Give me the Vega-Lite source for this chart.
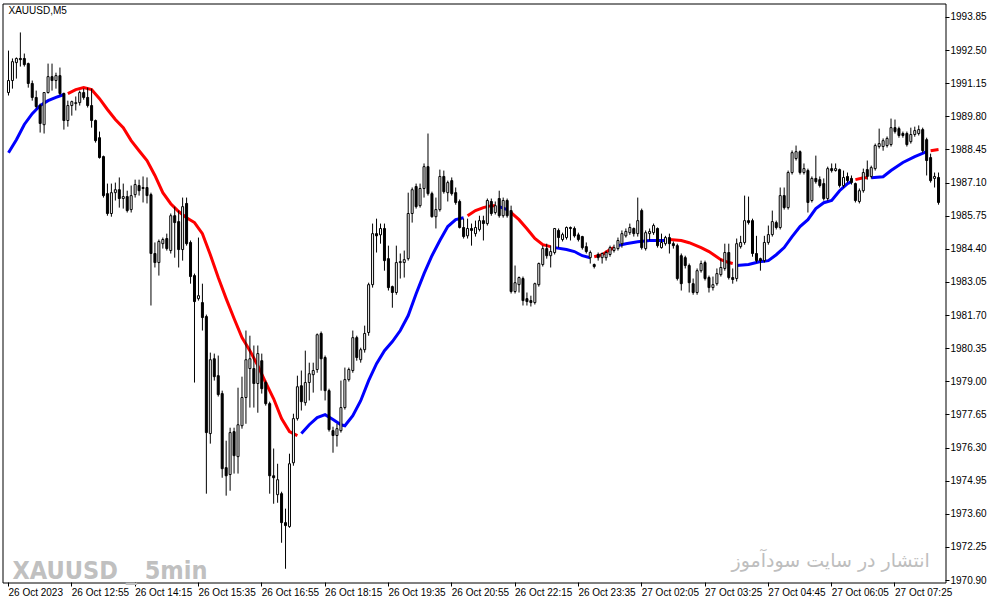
{
  "$schema": "https://vega.github.io/schema/vega-lite/v6.json",
  "width": 943,
  "height": 579,
  "autosize": {"type": "none"},
  "padding": {"left": 2.5, "top": 3.5, "right": 45.5, "bottom": 22.5},
  "background": "white",
  "config": {
    "view": {"stroke": "#000000", "strokeWidth": 1},
    "axis": {"labelFont": "Liberation Sans", "labelFontSize": 10, "labelColor": "#000000", "tickColor": "#000000", "domain": false, "grid": false, "title": null, "labelOverlap": false, "labelSeparation": 0, "labelFlush": false, "labelBound": false, "tickSize": 4, "labelPadding": 1, "translate": 0},
    "axisX": {"labelAlign": "left", "labelBaseline": "top"},
    "axisY": {"labelAlign": "left", "labelBaseline": "middle"}
  },
  "datasets": {
    "candles": [
      {"i":0,"o":1990.79,"h":1992.50,"l":1990.67,"c":1991.28},
      {"i":1,"o":1991.28,"h":1992.18,"l":1990.95,"c":1992.05},
      {"i":2,"o":1992.01,"h":1992.22,"l":1991.36,"c":1992.18},
      {"i":3,"o":1992.18,"h":1993.24,"l":1991.85,"c":1992.13},
      {"i":4,"o":1992.18,"h":1992.38,"l":1991.85,"c":1991.93},
      {"i":5,"o":1991.97,"h":1992.01,"l":1990.99,"c":1991.16},
      {"i":6,"o":1991.16,"h":1991.28,"l":1990.46,"c":1990.59},
      {"i":7,"o":1990.59,"h":1990.87,"l":1990.14,"c":1990.22},
      {"i":8,"o":1990.26,"h":1990.34,"l":1989.16,"c":1989.53},
      {"i":9,"o":1989.48,"h":1990.79,"l":1989.12,"c":1990.79},
      {"i":10,"o":1990.79,"h":1991.97,"l":1990.75,"c":1991.44},
      {"i":11,"o":1991.44,"h":1991.97,"l":1990.87,"c":1991.28},
      {"i":12,"o":1991.28,"h":1991.60,"l":1990.95,"c":1991.48},
      {"i":13,"o":1991.48,"h":1991.81,"l":1990.67,"c":1990.75},
      {"i":14,"o":1990.75,"h":1990.79,"l":1989.28,"c":1989.65},
      {"i":15,"o":1989.65,"h":1990.46,"l":1989.40,"c":1990.26},
      {"i":16,"o":1990.26,"h":1990.46,"l":1989.85,"c":1990.42},
      {"i":17,"o":1990.34,"h":1990.63,"l":1990.06,"c":1990.38},
      {"i":18,"o":1990.38,"h":1990.87,"l":1990.26,"c":1990.79},
      {"i":19,"o":1990.79,"h":1990.95,"l":1990.50,"c":1990.59},
      {"i":20,"o":1990.59,"h":1990.99,"l":1990.18,"c":1990.26},
      {"i":21,"o":1990.26,"h":1990.95,"l":1989.36,"c":1989.65},
      {"i":22,"o":1989.65,"h":1989.69,"l":1988.75,"c":1988.83},
      {"i":23,"o":1988.95,"h":1989.20,"l":1988.10,"c":1988.14},
      {"i":24,"o":1988.18,"h":1988.22,"l":1986.51,"c":1986.59},
      {"i":25,"o":1986.67,"h":1987.08,"l":1985.77,"c":1985.86},
      {"i":26,"o":1985.86,"h":1987.08,"l":1985.73,"c":1986.71},
      {"i":27,"o":1986.71,"h":1987.12,"l":1986.39,"c":1986.83},
      {"i":28,"o":1986.83,"h":1987.33,"l":1986.10,"c":1986.47},
      {"i":29,"o":1986.47,"h":1987.08,"l":1986.06,"c":1986.55},
      {"i":30,"o":1986.55,"h":1986.79,"l":1985.90,"c":1985.98},
      {"i":31,"o":1986.02,"h":1987.00,"l":1985.90,"c":1986.59},
      {"i":32,"o":1986.63,"h":1987.24,"l":1986.51,"c":1987.04},
      {"i":33,"o":1987.00,"h":1987.24,"l":1986.59,"c":1986.79},
      {"i":34,"o":1986.92,"h":1987.37,"l":1986.31,"c":1986.88},
      {"i":35,"o":1986.92,"h":1987.33,"l":1986.27,"c":1986.59},
      {"i":36,"o":1986.63,"h":1986.71,"l":1982.11,"c":1984.23},
      {"i":37,"o":1984.23,"h":1984.68,"l":1983.66,"c":1983.86},
      {"i":38,"o":1983.86,"h":1984.80,"l":1983.33,"c":1984.72},
      {"i":39,"o":1984.63,"h":1984.88,"l":1984.43,"c":1984.80},
      {"i":40,"o":1984.84,"h":1985.04,"l":1984.35,"c":1984.43},
      {"i":41,"o":1984.35,"h":1985.86,"l":1984.23,"c":1985.77},
      {"i":42,"o":1985.77,"h":1986.14,"l":1984.06,"c":1985.49},
      {"i":43,"o":1985.53,"h":1985.98,"l":1983.66,"c":1984.39},
      {"i":44,"o":1984.39,"h":1986.51,"l":1983.94,"c":1986.14},
      {"i":45,"o":1986.27,"h":1986.51,"l":1984.55,"c":1984.63},
      {"i":46,"o":1984.68,"h":1984.76,"l":1983.00,"c":1983.29},
      {"i":47,"o":1983.33,"h":1983.41,"l":1978.97,"c":1982.27},
      {"i":48,"o":1982.39,"h":1984.88,"l":1982.31,"c":1982.51},
      {"i":49,"o":1982.23,"h":1983.00,"l":1981.09,"c":1981.62},
      {"i":50,"o":1981.66,"h":1981.74,"l":1974.44,"c":1976.93},
      {"i":51,"o":1976.89,"h":1980.19,"l":1976.48,"c":1979.90},
      {"i":52,"o":1979.94,"h":1980.15,"l":1979.05,"c":1979.21},
      {"i":53,"o":1979.25,"h":1980.07,"l":1978.40,"c":1978.48},
      {"i":54,"o":1978.52,"h":1978.64,"l":1975.09,"c":1975.46},
      {"i":55,"o":1975.50,"h":1976.60,"l":1974.36,"c":1975.17},
      {"i":56,"o":1975.22,"h":1977.13,"l":1974.56,"c":1976.93},
      {"i":57,"o":1976.97,"h":1977.13,"l":1975.26,"c":1975.99},
      {"i":58,"o":1975.95,"h":1978.76,"l":1975.26,"c":1977.25},
      {"i":59,"o":1977.21,"h":1979.21,"l":1977.09,"c":1978.36},
      {"i":60,"o":1978.36,"h":1981.09,"l":1977.29,"c":1979.90},
      {"i":61,"o":1979.54,"h":1980.88,"l":1977.95,"c":1979.94},
      {"i":62,"o":1979.54,"h":1980.48,"l":1977.95,"c":1978.93},
      {"i":63,"o":1978.93,"h":1980.48,"l":1977.74,"c":1980.15},
      {"i":64,"o":1979.86,"h":1980.15,"l":1978.52,"c":1978.72},
      {"i":65,"o":1978.97,"h":1979.05,"l":1978.03,"c":1978.11},
      {"i":66,"o":1978.11,"h":1978.19,"l":1974.44,"c":1975.17},
      {"i":67,"o":1975.17,"h":1976.28,"l":1974.03,"c":1975.09},
      {"i":68,"o":1974.40,"h":1975.66,"l":1974.07,"c":1975.01},
      {"i":69,"o":1974.44,"h":1974.52,"l":1972.44,"c":1973.26},
      {"i":70,"o":1973.26,"h":1973.83,"l":1971.38,"c":1973.14},
      {"i":71,"o":1973.10,"h":1976.07,"l":1973.05,"c":1975.66},
      {"i":72,"o":1975.70,"h":1977.70,"l":1975.58,"c":1977.50},
      {"i":73,"o":1977.50,"h":1979.25,"l":1977.42,"c":1978.80},
      {"i":74,"o":1978.84,"h":1979.46,"l":1977.83,"c":1978.19},
      {"i":75,"o":1978.15,"h":1980.27,"l":1978.03,"c":1978.97},
      {"i":76,"o":1978.97,"h":1979.78,"l":1978.24,"c":1979.33},
      {"i":77,"o":1979.29,"h":1979.78,"l":1978.56,"c":1979.46},
      {"i":78,"o":1979.50,"h":1980.97,"l":1979.37,"c":1980.92},
      {"i":79,"o":1980.97,"h":1981.05,"l":1978.64,"c":1979.94},
      {"i":80,"o":1979.99,"h":1980.07,"l":1978.24,"c":1978.64},
      {"i":81,"o":1978.64,"h":1978.72,"l":1976.97,"c":1977.05},
      {"i":82,"o":1977.01,"h":1977.17,"l":1976.11,"c":1976.81},
      {"i":83,"o":1976.81,"h":1977.29,"l":1976.36,"c":1977.09},
      {"i":84,"o":1977.01,"h":1979.05,"l":1976.93,"c":1977.95},
      {"i":85,"o":1977.95,"h":1979.58,"l":1977.87,"c":1979.09},
      {"i":86,"o":1979.09,"h":1979.58,"l":1979.01,"c":1979.50},
      {"i":87,"o":1979.46,"h":1981.09,"l":1979.37,"c":1980.80},
      {"i":88,"o":1980.80,"h":1980.88,"l":1979.86,"c":1979.99},
      {"i":89,"o":1979.90,"h":1980.39,"l":1979.78,"c":1980.31},
      {"i":90,"o":1980.31,"h":1981.29,"l":1980.19,"c":1980.97},
      {"i":91,"o":1981.01,"h":1983.04,"l":1980.88,"c":1982.96},
      {"i":92,"o":1982.96,"h":1985.45,"l":1982.84,"c":1985.04},
      {"i":93,"o":1985.04,"h":1985.65,"l":1984.27,"c":1984.95},
      {"i":94,"o":1984.99,"h":1985.45,"l":1984.63,"c":1985.25},
      {"i":95,"o":1985.25,"h":1985.45,"l":1983.53,"c":1983.94},
      {"i":96,"o":1984.02,"h":1984.55,"l":1982.72,"c":1982.84},
      {"i":97,"o":1982.88,"h":1982.92,"l":1982.02,"c":1982.64},
      {"i":98,"o":1982.64,"h":1984.55,"l":1982.55,"c":1983.86},
      {"i":99,"o":1983.86,"h":1984.23,"l":1983.21,"c":1983.90},
      {"i":100,"o":1983.86,"h":1984.35,"l":1983.25,"c":1983.98},
      {"i":101,"o":1984.02,"h":1986.71,"l":1983.94,"c":1985.86},
      {"i":102,"o":1985.86,"h":1986.92,"l":1985.49,"c":1986.83},
      {"i":103,"o":1986.96,"h":1987.08,"l":1986.06,"c":1986.14},
      {"i":104,"o":1986.18,"h":1987.08,"l":1986.10,"c":1986.88},
      {"i":105,"o":1986.88,"h":1987.90,"l":1986.51,"c":1987.77},
      {"i":106,"o":1987.77,"h":1989.12,"l":1986.59,"c":1986.67},
      {"i":107,"o":1986.67,"h":1986.75,"l":1985.69,"c":1985.73},
      {"i":108,"o":1985.73,"h":1986.51,"l":1985.25,"c":1986.02},
      {"i":109,"o":1986.02,"h":1987.65,"l":1985.94,"c":1987.37},
      {"i":110,"o":1987.37,"h":1987.61,"l":1986.67,"c":1986.75},
      {"i":111,"o":1986.71,"h":1987.20,"l":1986.35,"c":1987.12},
      {"i":112,"o":1987.20,"h":1987.33,"l":1986.59,"c":1986.67},
      {"i":113,"o":1986.71,"h":1986.92,"l":1986.22,"c":1986.31},
      {"i":114,"o":1986.35,"h":1986.43,"l":1985.25,"c":1985.29},
      {"i":115,"o":1985.29,"h":1985.65,"l":1984.84,"c":1984.92},
      {"i":116,"o":1984.95,"h":1985.65,"l":1984.84,"c":1985.25},
      {"i":117,"o":1985.25,"h":1985.45,"l":1984.55,"c":1985.17},
      {"i":118,"o":1985.04,"h":1985.57,"l":1984.92,"c":1985.29},
      {"i":119,"o":1985.21,"h":1985.77,"l":1985.13,"c":1985.57},
      {"i":120,"o":1985.57,"h":1985.77,"l":1984.76,"c":1985.45},
      {"i":121,"o":1985.45,"h":1986.47,"l":1985.37,"c":1986.39},
      {"i":122,"o":1986.35,"h":1986.47,"l":1985.77,"c":1985.86},
      {"i":123,"o":1985.90,"h":1986.35,"l":1985.82,"c":1986.18},
      {"i":124,"o":1986.47,"h":1986.79,"l":1985.69,"c":1985.77},
      {"i":125,"o":1985.77,"h":1986.51,"l":1985.69,"c":1986.39},
      {"i":126,"o":1986.39,"h":1986.47,"l":1985.69,"c":1985.77},
      {"i":127,"o":1985.98,"h":1986.18,"l":1982.60,"c":1982.68},
      {"i":128,"o":1982.68,"h":1983.74,"l":1982.60,"c":1983.04},
      {"i":129,"o":1982.96,"h":1983.29,"l":1982.64,"c":1983.25},
      {"i":130,"o":1983.21,"h":1983.29,"l":1982.11,"c":1982.31},
      {"i":131,"o":1982.39,"h":1982.64,"l":1982.11,"c":1982.27},
      {"i":132,"o":1982.31,"h":1982.51,"l":1982.07,"c":1982.23},
      {"i":133,"o":1982.23,"h":1983.04,"l":1982.15,"c":1983.00},
      {"i":134,"o":1982.96,"h":1983.86,"l":1982.88,"c":1983.82},
      {"i":135,"o":1983.78,"h":1984.55,"l":1983.70,"c":1984.43},
      {"i":136,"o":1984.43,"h":1984.63,"l":1984.02,"c":1984.14},
      {"i":137,"o":1984.14,"h":1984.55,"l":1983.66,"c":1984.31},
      {"i":138,"o":1984.27,"h":1985.25,"l":1984.19,"c":1985.25},
      {"i":139,"o":1985.17,"h":1985.25,"l":1984.47,"c":1984.88},
      {"i":140,"o":1984.80,"h":1985.08,"l":1984.72,"c":1985.00},
      {"i":141,"o":1984.88,"h":1985.33,"l":1984.80,"c":1985.29},
      {"i":142,"o":1985.29,"h":1985.33,"l":1984.76,"c":1985.25},
      {"i":143,"o":1985.25,"h":1985.33,"l":1984.88,"c":1984.95},
      {"i":144,"o":1984.99,"h":1985.08,"l":1984.72,"c":1984.80},
      {"i":145,"o":1984.92,"h":1984.95,"l":1984.39,"c":1984.47},
      {"i":146,"o":1984.51,"h":1984.68,"l":1984.23,"c":1984.31},
      {"i":147,"o":1984.06,"h":1984.35,"l":1983.82,"c":1984.27},
      {"i":148,"o":1983.78,"h":1983.82,"l":1983.62,"c":1983.70},
      {"i":149,"o":1984.19,"h":1984.27,"l":1983.94,"c":1984.06},
      {"i":150,"o":1984.06,"h":1984.27,"l":1983.82,"c":1984.23},
      {"i":151,"o":1984.06,"h":1984.35,"l":1983.94,"c":1984.27},
      {"i":152,"o":1984.19,"h":1984.55,"l":1984.10,"c":1984.47},
      {"i":153,"o":1984.35,"h":1984.59,"l":1984.27,"c":1984.47},
      {"i":154,"o":1984.43,"h":1984.88,"l":1984.35,"c":1984.76},
      {"i":155,"o":1984.63,"h":1985.17,"l":1984.47,"c":1985.04},
      {"i":156,"o":1984.95,"h":1985.25,"l":1984.88,"c":1985.13},
      {"i":157,"o":1985.08,"h":1985.45,"l":1984.99,"c":1985.29},
      {"i":158,"o":1985.25,"h":1985.29,"l":1984.92,"c":1985.04},
      {"i":159,"o":1985.04,"h":1986.51,"l":1984.92,"c":1985.57},
      {"i":160,"o":1985.98,"h":1986.06,"l":1984.39,"c":1984.47},
      {"i":161,"o":1984.43,"h":1985.17,"l":1984.35,"c":1985.08},
      {"i":162,"o":1985.04,"h":1985.25,"l":1984.76,"c":1985.13},
      {"i":163,"o":1985.08,"h":1985.45,"l":1984.99,"c":1985.37},
      {"i":164,"o":1985.25,"h":1985.29,"l":1984.47,"c":1984.55},
      {"i":165,"o":1984.47,"h":1985.04,"l":1984.43,"c":1984.68},
      {"i":166,"o":1984.63,"h":1984.95,"l":1984.55,"c":1984.88},
      {"i":167,"o":1984.88,"h":1985.04,"l":1984.23,"c":1984.63},
      {"i":168,"o":1984.63,"h":1984.72,"l":1984.43,"c":1984.55},
      {"i":169,"o":1984.55,"h":1984.63,"l":1983.13,"c":1983.21},
      {"i":170,"o":1984.14,"h":1984.23,"l":1982.72,"c":1983.00},
      {"i":171,"o":1984.06,"h":1984.14,"l":1983.62,"c":1983.74},
      {"i":172,"o":1983.74,"h":1983.82,"l":1982.64,"c":1983.04},
      {"i":173,"o":1983.00,"h":1983.21,"l":1982.55,"c":1982.64},
      {"i":174,"o":1982.64,"h":1983.62,"l":1982.55,"c":1983.53},
      {"i":175,"o":1983.53,"h":1983.94,"l":1983.45,"c":1983.82},
      {"i":176,"o":1983.86,"h":1983.94,"l":1983.13,"c":1983.21},
      {"i":177,"o":1983.25,"h":1983.33,"l":1982.64,"c":1982.84},
      {"i":178,"o":1982.84,"h":1983.29,"l":1982.72,"c":1982.96},
      {"i":179,"o":1983.00,"h":1983.62,"l":1982.92,"c":1983.41},
      {"i":180,"o":1983.37,"h":1984.02,"l":1983.29,"c":1983.66},
      {"i":181,"o":1983.62,"h":1984.63,"l":1983.53,"c":1984.27},
      {"i":182,"o":1984.27,"h":1984.63,"l":1983.17,"c":1983.25},
      {"i":183,"o":1983.25,"h":1983.62,"l":1983.00,"c":1983.17},
      {"i":184,"o":1983.21,"h":1984.84,"l":1983.09,"c":1984.63},
      {"i":185,"o":1984.51,"h":1984.95,"l":1984.43,"c":1984.68},
      {"i":186,"o":1984.68,"h":1986.59,"l":1984.59,"c":1985.57},
      {"i":187,"o":1985.57,"h":1986.55,"l":1985.41,"c":1985.49},
      {"i":188,"o":1985.57,"h":1985.65,"l":1984.10,"c":1984.23},
      {"i":189,"o":1984.23,"h":1984.95,"l":1983.86,"c":1983.94},
      {"i":190,"o":1984.02,"h":1984.06,"l":1983.53,"c":1983.94},
      {"i":191,"o":1983.94,"h":1984.95,"l":1983.86,"c":1984.68},
      {"i":192,"o":1984.68,"h":1985.37,"l":1984.59,"c":1985.00},
      {"i":193,"o":1985.00,"h":1985.98,"l":1984.92,"c":1985.53},
      {"i":194,"o":1985.49,"h":1985.57,"l":1985.21,"c":1985.29},
      {"i":195,"o":1985.29,"h":1986.92,"l":1985.21,"c":1986.59},
      {"i":196,"o":1986.59,"h":1986.92,"l":1986.02,"c":1986.10},
      {"i":197,"o":1986.10,"h":1987.61,"l":1986.02,"c":1987.53},
      {"i":198,"o":1987.53,"h":1988.43,"l":1987.45,"c":1988.34},
      {"i":199,"o":1988.10,"h":1988.63,"l":1988.02,"c":1988.38},
      {"i":200,"o":1988.38,"h":1988.43,"l":1987.45,"c":1987.53},
      {"i":201,"o":1987.53,"h":1987.90,"l":1987.45,"c":1987.69},
      {"i":202,"o":1987.61,"h":1987.69,"l":1985.90,"c":1986.31},
      {"i":203,"o":1986.39,"h":1987.37,"l":1986.31,"c":1987.29},
      {"i":204,"o":1987.29,"h":1988.22,"l":1987.08,"c":1987.16},
      {"i":205,"o":1987.24,"h":1987.37,"l":1986.92,"c":1987.00},
      {"i":206,"o":1987.08,"h":1987.29,"l":1986.39,"c":1986.47},
      {"i":207,"o":1986.47,"h":1987.77,"l":1986.39,"c":1987.69},
      {"i":208,"o":1987.69,"h":1987.90,"l":1987.53,"c":1987.61},
      {"i":209,"o":1987.61,"h":1987.90,"l":1987.57,"c":1987.69},
      {"i":210,"o":1987.65,"h":1987.69,"l":1986.92,"c":1987.00},
      {"i":211,"o":1987.00,"h":1987.61,"l":1986.92,"c":1987.33},
      {"i":212,"o":1987.37,"h":1987.53,"l":1987.12,"c":1987.20},
      {"i":213,"o":1987.29,"h":1987.41,"l":1987.04,"c":1987.12},
      {"i":214,"o":1987.08,"h":1987.12,"l":1986.31,"c":1986.39},
      {"i":215,"o":1986.35,"h":1986.88,"l":1986.27,"c":1986.79},
      {"i":216,"o":1986.79,"h":1987.69,"l":1986.71,"c":1987.53},
      {"i":217,"o":1987.65,"h":1988.02,"l":1987.24,"c":1987.37},
      {"i":218,"o":1987.37,"h":1987.81,"l":1987.29,"c":1987.73},
      {"i":219,"o":1987.69,"h":1988.71,"l":1987.61,"c":1988.63},
      {"i":220,"o":1988.59,"h":1989.32,"l":1988.51,"c":1988.71},
      {"i":221,"o":1988.59,"h":1988.92,"l":1988.42,"c":1988.83},
      {"i":222,"o":1988.63,"h":1989.00,"l":1988.55,"c":1988.92},
      {"i":223,"o":1988.67,"h":1989.73,"l":1988.59,"c":1989.36},
      {"i":224,"o":1989.36,"h":1989.69,"l":1989.12,"c":1989.20},
      {"i":225,"o":1989.32,"h":1989.40,"l":1988.95,"c":1989.04},
      {"i":226,"o":1989.12,"h":1989.20,"l":1988.95,"c":1989.04},
      {"i":227,"o":1989.12,"h":1989.20,"l":1988.59,"c":1988.67},
      {"i":228,"o":1988.79,"h":1989.36,"l":1988.71,"c":1989.08},
      {"i":229,"o":1989.08,"h":1989.40,"l":1988.99,"c":1989.24},
      {"i":230,"o":1989.12,"h":1989.45,"l":1989.04,"c":1989.28},
      {"i":231,"o":1989.28,"h":1989.36,"l":1988.34,"c":1988.42},
      {"i":232,"o":1988.87,"h":1988.95,"l":1987.41,"c":1988.02},
      {"i":233,"o":1988.14,"h":1988.30,"l":1987.12,"c":1987.20},
      {"i":234,"o":1987.29,"h":1987.53,"l":1986.92,"c":1987.37},
      {"i":235,"o":1987.33,"h":1987.53,"l":1986.22,"c":1986.31}
    ],
    "ma": [
      {"i":0,"ma":1988.34,"seg":1,"col":"blue"},
      {"i":2,"ma":1988.87,"seg":1,"col":"blue"},
      {"i":4,"ma":1989.49,"seg":1,"col":"blue"},
      {"i":6,"ma":1989.93,"seg":1,"col":"blue"},
      {"i":8,"ma":1990.26,"seg":1,"col":"blue"},
      {"i":10,"ma":1990.46,"seg":1,"col":"blue"},
      {"i":12,"ma":1990.59,"seg":1,"col":"blue"},
      {"i":14,"ma":1990.71,"seg":1,"col":"blue"},
      {"i":15,"ma":1990.75,"seg":2,"col":"red"},
      {"i":17,"ma":1990.91,"seg":2,"col":"red"},
      {"i":19,"ma":1990.99,"seg":2,"col":"red"},
      {"i":21,"ma":1990.91,"seg":2,"col":"red"},
      {"i":23,"ma":1990.54,"seg":2,"col":"red"},
      {"i":25,"ma":1990.10,"seg":2,"col":"red"},
      {"i":27,"ma":1989.69,"seg":2,"col":"red"},
      {"i":29,"ma":1989.36,"seg":2,"col":"red"},
      {"i":31,"ma":1988.83,"seg":2,"col":"red"},
      {"i":33,"ma":1988.42,"seg":2,"col":"red"},
      {"i":35,"ma":1988.02,"seg":2,"col":"red"},
      {"i":37,"ma":1987.41,"seg":2,"col":"red"},
      {"i":39,"ma":1986.71,"seg":2,"col":"red"},
      {"i":41,"ma":1986.26,"seg":2,"col":"red"},
      {"i":43,"ma":1985.94,"seg":2,"col":"red"},
      {"i":45,"ma":1985.69,"seg":2,"col":"red"},
      {"i":47,"ma":1985.49,"seg":2,"col":"red"},
      {"i":49,"ma":1985.04,"seg":2,"col":"red"},
      {"i":51,"ma":1984.18,"seg":2,"col":"red"},
      {"i":53,"ma":1983.25,"seg":2,"col":"red"},
      {"i":55,"ma":1982.39,"seg":2,"col":"red"},
      {"i":57,"ma":1981.58,"seg":2,"col":"red"},
      {"i":59,"ma":1980.80,"seg":2,"col":"red"},
      {"i":61,"ma":1980.27,"seg":2,"col":"red"},
      {"i":63,"ma":1979.66,"seg":2,"col":"red"},
      {"i":65,"ma":1978.97,"seg":2,"col":"red"},
      {"i":67,"ma":1978.31,"seg":2,"col":"red"},
      {"i":69,"ma":1977.50,"seg":2,"col":"red"},
      {"i":71,"ma":1976.97,"seg":2,"col":"red"},
      {"i":73,"ma":1976.81,"seg":2,"col":"red"},
      {"i":74,"ma":1976.89,"seg":3,"col":"blue"},
      {"i":76,"ma":1977.25,"seg":3,"col":"blue"},
      {"i":78,"ma":1977.54,"seg":3,"col":"blue"},
      {"i":80,"ma":1977.66,"seg":3,"col":"blue"},
      {"i":82,"ma":1977.46,"seg":3,"col":"blue"},
      {"i":84,"ma":1977.25,"seg":3,"col":"blue"},
      {"i":85,"ma":1977.21,"seg":3,"col":"blue"},
      {"i":87,"ma":1977.62,"seg":3,"col":"blue"},
      {"i":89,"ma":1978.23,"seg":3,"col":"blue"},
      {"i":91,"ma":1979.05,"seg":3,"col":"blue"},
      {"i":93,"ma":1979.74,"seg":3,"col":"blue"},
      {"i":95,"ma":1980.27,"seg":3,"col":"blue"},
      {"i":97,"ma":1980.64,"seg":3,"col":"blue"},
      {"i":99,"ma":1981.09,"seg":3,"col":"blue"},
      {"i":101,"ma":1981.70,"seg":3,"col":"blue"},
      {"i":103,"ma":1982.59,"seg":3,"col":"blue"},
      {"i":105,"ma":1983.41,"seg":3,"col":"blue"},
      {"i":107,"ma":1984.14,"seg":3,"col":"blue"},
      {"i":109,"ma":1984.76,"seg":3,"col":"blue"},
      {"i":111,"ma":1985.33,"seg":3,"col":"blue"},
      {"i":113,"ma":1985.61,"seg":3,"col":"blue"},
      {"i":115,"ma":1985.69,"seg":3,"col":"blue"},
      {"i":116,"ma":1985.77,"seg":4,"col":"red"},
      {"i":118,"ma":1985.98,"seg":4,"col":"red"},
      {"i":120,"ma":1986.10,"seg":4,"col":"red"},
      {"i":122,"ma":1986.18,"seg":4,"col":"red"},
      {"i":123,"ma":1986.18,"seg":4,"col":"red"},
      {"i":124,"ma":1986.14,"seg":5,"col":"blue"},
      {"i":126,"ma":1986.02,"seg":5,"col":"blue"},
      {"i":127,"ma":1985.90,"seg":6,"col":"red"},
      {"i":129,"ma":1985.61,"seg":6,"col":"red"},
      {"i":131,"ma":1985.24,"seg":6,"col":"red"},
      {"i":133,"ma":1984.84,"seg":6,"col":"red"},
      {"i":135,"ma":1984.59,"seg":6,"col":"red"},
      {"i":137,"ma":1984.51,"seg":6,"col":"red"},
      {"i":138,"ma":1984.47,"seg":7,"col":"blue"},
      {"i":141,"ma":1984.39,"seg":7,"col":"blue"},
      {"i":143,"ma":1984.31,"seg":7,"col":"blue"},
      {"i":145,"ma":1984.14,"seg":7,"col":"blue"},
      {"i":147,"ma":1984.06,"seg":7,"col":"blue"},
      {"i":148,"ma":1984.10,"seg":8,"col":"red"},
      {"i":150,"ma":1984.18,"seg":8,"col":"red"},
      {"i":152,"ma":1984.39,"seg":8,"col":"red"},
      {"i":153,"ma":1984.47,"seg":8,"col":"red"},
      {"i":154,"ma":1984.55,"seg":9,"col":"blue"},
      {"i":156,"ma":1984.63,"seg":9,"col":"blue"},
      {"i":159,"ma":1984.71,"seg":9,"col":"blue"},
      {"i":162,"ma":1984.76,"seg":9,"col":"blue"},
      {"i":166,"ma":1984.76,"seg":9,"col":"blue"},
      {"i":167,"ma":1984.80,"seg":10,"col":"red"},
      {"i":170,"ma":1984.76,"seg":10,"col":"red"},
      {"i":172,"ma":1984.67,"seg":10,"col":"red"},
      {"i":175,"ma":1984.47,"seg":10,"col":"red"},
      {"i":177,"ma":1984.31,"seg":10,"col":"red"},
      {"i":180,"ma":1983.98,"seg":10,"col":"red"},
      {"i":182,"ma":1983.86,"seg":10,"col":"red"},
      {"i":183,"ma":1983.82,"seg":10,"col":"red"},
      {"i":184,"ma":1983.74,"seg":11,"col":"blue"},
      {"i":187,"ma":1983.78,"seg":11,"col":"blue"},
      {"i":190,"ma":1983.90,"seg":11,"col":"blue"},
      {"i":192,"ma":1983.94,"seg":11,"col":"blue"},
      {"i":194,"ma":1984.18,"seg":11,"col":"blue"},
      {"i":196,"ma":1984.47,"seg":11,"col":"blue"},
      {"i":198,"ma":1984.92,"seg":11,"col":"blue"},
      {"i":200,"ma":1985.33,"seg":11,"col":"blue"},
      {"i":202,"ma":1985.61,"seg":11,"col":"blue"},
      {"i":204,"ma":1986.06,"seg":11,"col":"blue"},
      {"i":206,"ma":1986.30,"seg":11,"col":"blue"},
      {"i":208,"ma":1986.39,"seg":11,"col":"blue"},
      {"i":210,"ma":1986.79,"seg":11,"col":"blue"},
      {"i":212,"ma":1987.08,"seg":11,"col":"blue"},
      {"i":213,"ma":1987.16,"seg":11,"col":"blue"},
      {"i":214,"ma":1987.24,"seg":12,"col":"red"},
      {"i":216,"ma":1987.32,"seg":12,"col":"red"},
      {"i":217,"ma":1987.32,"seg":12,"col":"red"},
      {"i":218,"ma":1987.32,"seg":13,"col":"blue"},
      {"i":221,"ma":1987.36,"seg":13,"col":"blue"},
      {"i":223,"ma":1987.61,"seg":13,"col":"blue"},
      {"i":226,"ma":1987.94,"seg":13,"col":"blue"},
      {"i":229,"ma":1988.18,"seg":13,"col":"blue"},
      {"i":232,"ma":1988.38,"seg":13,"col":"blue"},
      {"i":233,"ma":1988.42,"seg":14,"col":"red"},
      {"i":235,"ma":1988.47,"seg":14,"col":"red"}
    ],
    "title": [{"label": "XAUUSD,M5"}],
    "wm1": [{"label": "XAUUSD _ 5min"}],
    "wm2": [{"label": "انتشار در سایت سودآموز"}]
  },
  "layer": [
    {
      "data": {"name": "ma"},
      "mark": {"type": "line", "strokeWidth": 3, "opacity": 1},
      "encoding": {
        "x": {"field": "i", "type": "quantitative", "scale": {"domain": [-0.25, 235.5], "nice": false, "zero": false},
          "axis": {"orient": "bottom", "labelOverlap": false, "values": [0,16,32,48,64,80,96,112,128,144,160,176,192,208,224],
            "labelExpr": "['26 Oct 2023','26 Oct 12:55','26 Oct 14:15','26 Oct 15:35','26 Oct 16:55','26 Oct 18:15','26 Oct 19:35','26 Oct 20:55','26 Oct 22:15','26 Oct 23:35','27 Oct 02:05','27 Oct 03:25','27 Oct 04:45','27 Oct 06:05','27 Oct 07:25'][round(datum.value/16)]"}},
        "y": {"field": "ma", "type": "quantitative", "scale": {"domain": [1970.82, 1994.42], "nice": false, "zero": false},
          "axis": {"orient": "right", "labelOverlap": false, "tickCount": 18, "values": [1970.90,1972.25,1973.60,1974.95,1976.30,1977.65,1979.00,1980.35,1981.70,1983.05,1984.40,1985.75,1987.10,1988.45,1989.80,1991.15,1992.50,1993.85],
            "format": ".2f"}},
        "stroke": {"field": "col", "type": "nominal", "scale": {"domain": ["blue", "red"], "range": ["#0000ff", "#ff0000"]}, "legend": null},
        "detail": {"field": "seg", "type": "nominal"}
      }
    },
    {
      "data": {"name": "candles"},
      "mark": {"type": "rule", "color": "#000000", "strokeWidth": 1, "opacity": 1},
      "encoding": {
        "x": {"field": "i", "type": "quantitative"},
        "y": {"field": "l", "type": "quantitative"},
        "y2": {"field": "h"}
      }
    },
    {
      "data": {"name": "candles"},
      "mark": {"type": "bar", "width": 2, "stroke": "#000000", "strokeWidth": 1, "opacity": 1, "fillOpacity": 1},
      "encoding": {
        "x": {"field": "i", "type": "quantitative"},
        "y": {"field": "o", "type": "quantitative"},
        "y2": {"field": "c"},
        "fill": {"condition": {"test": "datum.c >= datum.o", "value": "#ffffff"}, "value": "#000000"}
      }
    },
    {
      "data": {"name": "title"},
      "mark": {"type": "text", "align": "left", "baseline": "middle", "font": "Liberation Sans", "fontSize": 10, "color": "#000000"},
      "encoding": {
        "x": {"datum": 0, "type": "quantitative"},
        "y": {"datum": 1994.13, "type": "quantitative"},
        "text": {"field": "label"}
      }
    },
    {
      "data": {"name": "wm1"},
      "mark": {"type": "text", "align": "left", "baseline": "alphabetic", "font": "DejaVu Sans Condensed, DejaVu Sans", "fontWeight": "bold", "fontSize": 25, "color": "#c0c0c0"},
      "encoding": {
        "x": {"datum": 1.0, "type": "quantitative"},
        "y": {"datum": 1970.97, "type": "quantitative"},
        "text": {"field": "label"}
      }
    },
    {
      "data": {"name": "wm2"},
      "mark": {"type": "text", "align": "right", "baseline": "alphabetic", "font": "DejaVu Sans", "fontSize": 19, "color": "#bebebe"},
      "encoding": {
        "x": {"datum": 232.8, "type": "quantitative"},
        "y": {"datum": 1971.45, "type": "quantitative"},
        "text": {"field": "label"}
      }
    }
  ]
}
